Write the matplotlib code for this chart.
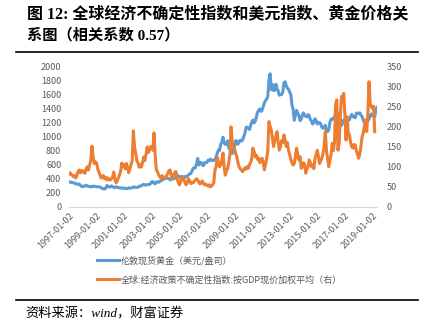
import matplotlib
matplotlib.use('Agg')
import matplotlib.pyplot as plt
import pandas as pd
from matplotlib.lines import Line2D

plt.rcParams['font.family'] = ['Noto Sans CJK SC', 'DejaVu Sans']

# London spot gold (USD/oz), monthly readings from the chart
gold = [
    360, 350, 352, 344, 344, 341, 326, 324, 323, 325, 306, 290,   # 1997
    289, 297, 296, 308, 299, 292, 293, 284, 289, 296, 294, 291,   # 1998
    287, 288, 286, 282, 277, 262, 256, 257, 265, 305, 293, 283,   # 1999
    285, 300, 286, 280, 275, 286, 282, 275, 273, 270, 266, 272,   # 2000
    266, 262, 263, 261, 272, 270, 268, 273, 283, 283, 276, 276,   # 2001
    282, 295, 294, 302, 314, 321, 314, 310, 319, 317, 319, 333,   # 2002
    357, 359, 340, 328, 355, 356, 351, 360, 379, 379, 389, 407,   # 2003
    414, 405, 406, 404, 384, 392, 398, 400, 406, 420, 439, 442,   # 2004
    424, 423, 434, 429, 422, 431, 424, 438, 456, 470, 476, 510,   # 2005
    549, 555, 557, 610, 690, 596, 633, 632, 598, 586, 628, 629,   # 2006
    631, 665, 655, 679, 667, 655, 665, 665, 712, 754, 806, 803,   # 2007
    889, 922, 990, 909, 888, 890, 939, 839, 829, 806, 760, 816,   # 2008
    858, 943, 924, 890, 928, 946, 934, 949, 996, 1043, 1127, 1134,
    1118, 1100, 1149, 1205, 1233, 1193, 1215, 1271, 1343, 1370, 1391,
    1356, 1372, 1424, 1474, 1510, 1529, 1573, 1800, 1890, 1665, 1739, 1652,
    1656, 1742, 1674, 1650, 1585, 1596, 1594, 1630, 1760, 1777, 1721, 1684,
    1671, 1627, 1593, 1450, 1390, 1230, 1300, 1370, 1330, 1300, 1225,
    1244, 1300, 1336, 1299, 1287, 1279, 1311, 1296, 1239, 1222, 1176, 1200,
    1251, 1227, 1178, 1198, 1198, 1181, 1131, 1117, 1125, 1159, 1086, 1068,
    1097, 1200, 1246, 1242, 1260, 1276, 1337, 1341, 1326, 1266, 1238, 1157,
    1192, 1234, 1231, 1266, 1246, 1260, 1236, 1283, 1315, 1280, 1283, 1265,
    1331, 1331, 1325, 1335, 1303, 1282, 1238, 1201, 1198, 1215, 1221, 1250,
    1291, 1320, 1301, 1286, 1284, 1359, 1413,
]

# Global economic policy uncertainty index (GDP weighted, current prices), right axis
epu = [
    82, 85, 80, 79, 75, 78, 72, 80, 88, 92, 85, 90,
    90, 85, 84, 95, 100, 92, 104, 115, 151, 125, 108, 112,
    109, 95, 87, 80, 72, 75, 78, 70, 74, 67, 72, 68,
    67, 70, 75, 87, 70, 60, 65, 72, 80, 90, 109, 100,
    105, 95, 108, 98, 85, 95, 105, 115, 189, 150, 134, 115,
    110, 99, 105, 99, 110, 124, 115, 130, 149, 135, 141, 150,
    150, 141, 184, 130, 92, 88, 80, 75, 72, 78, 74, 70,
    74, 78, 84, 90, 92, 78, 70, 80, 85, 88, 72, 62,
    55, 62, 70, 74, 68, 60, 55, 62, 70, 65, 58, 60,
    60, 64, 67, 70, 67, 62, 57, 60, 65, 58, 55, 57,
    54, 52, 55, 50, 52, 55, 60, 92, 100, 124, 109, 100,
    105, 117, 134, 100, 79, 90, 95, 110, 129, 199, 160, 150,
    145, 133, 125, 110, 100, 95, 92, 88, 92, 97, 94, 100,
    96, 105, 110, 120, 146, 138, 125, 129, 118, 121, 110, 115,
    121, 110, 92, 105, 120, 140, 212, 200, 191, 170, 150, 165,
    175, 187, 160, 141, 150, 165, 160, 179, 165, 150, 160, 140,
    130, 117, 110, 104, 108, 125, 146, 130, 117, 125, 96, 100,
    110, 105, 84, 95, 100, 117, 110, 100, 105, 95, 120, 130,
    141, 125, 108, 115, 120, 133, 150, 187, 140, 120, 100, 115,
    130, 158, 140, 160, 255, 266, 141, 158, 220, 274, 274, 282,
    230, 166, 224, 183, 179, 160, 150, 146, 155, 154, 140, 130,
    121, 133, 150, 174, 183, 200, 216, 187, 230, 311, 257, 249,
    245, 250, 187,
]

tick_labels = ['1997-01-02', '1999-01-02', '2001-01-02', '2003-01-02',
               '2005-01-02', '2007-01-02', '2009-01-02', '2011-01-02',
               '2013-01-02', '2015-01-02', '2017-01-02', '2019-01-02']
left_ticks = list(range(0, 2001, 200))
right_ticks = list(range(0, 351, 50))

label_gold = '伦敦现货黄金（美元/盎司）'
label_epu = '全球:经济政策不确定性指数:按GDP现价加权平均（右）'
title1 = '图 12: 全球经济不确定性指数和美元指数、黄金价格关'
title2 = '系图（相关系数 0.57）'
source = '资料来源：wind，财富证券'

gold_dates = pd.date_range('1997-01-01', periods=len(gold), freq='MS') + pd.Timedelta(days=1)
epu_dates = pd.date_range('1997-01-01', periods=len(epu), freq='MS') + pd.Timedelta(days=1)

W, H = 427, 330
fig = plt.figure(figsize=(W / 100, H / 100), dpi=100)
fig.patch.set_facecolor('white')

ax = fig.add_axes([69 / W, 1 - 207 / H, (377 - 69) / W, 141 / H])
ax2 = ax.twinx()

tick_col = '#595959'
l1, = ax.plot(gold_dates, gold, color='#5B9BD5', lw=2.2, solid_joinstyle='round')
l2, = ax2.plot(epu_dates, epu, color='#ED7D31', lw=2.2, solid_joinstyle='round')

ax.set_ylim(0, 2000)
ax2.set_ylim(0, 350)
ax.set_yticks(left_ticks)
ax2.set_yticks(right_ticks)
ax.set_xlim(pd.Timestamp('1997-01-02'), gold_dates[-1])

xt = [pd.Timestamp(t) for t in tick_labels]
ax.set_xticks(xt)
ax.set_xticklabels(tick_labels, rotation=45, ha='right', va='top',
                   rotation_mode='anchor')

for a in (ax, ax2):
    for s in a.spines.values():
        s.set_visible(False)
    a.tick_params(length=0, labelsize=6.5, colors=tick_col)
ax.spines['bottom'].set_visible(True)
ax.spines['bottom'].set_color('#D9D9D9')
ax.spines['bottom'].set_linewidth(0.9)
ax.tick_params(axis='y', pad=5.5)
ax2.tick_params(axis='y', pad=7)
ax.tick_params(axis='x', pad=3)

fig.legend([l1, l2], [label_gold, label_epu], loc='upper left',
           bbox_to_anchor=(97 / W, 1 - 256 / H), frameon=False,
           fontsize=6.5, handlelength=2.4, handletextpad=0.25,
           labelspacing=1.05, borderpad=0, borderaxespad=0,
           labelcolor=tick_col)

title_fam = ['Liberation Serif', 'Noto Sans CJK SC']
fig.text(27 / W, 1 - 14 / H, title1, fontsize=11.5, fontweight='bold',
         family=title_fam, va='center', ha='left')
fig.text(27 / W, 1 - 35 / H, title2, fontsize=11, fontweight='bold',
         family=title_fam, va='center', ha='left')

fig.add_artist(Line2D([16 / W, 418 / W], [1 - 52 / H, 1 - 52 / H],
                      color='black', lw=1.2, transform=fig.transFigure))
fig.add_artist(Line2D([16 / W, 418 / W], [1 - 300 / H, 1 - 300 / H],
                      color='black', lw=1.2, transform=fig.transFigure))

fig.text(25 / W, 1 - 314 / H, source, fontsize=9.5, style='italic',
         family=['Liberation Serif', 'Noto Sans CJK SC'], va='center', ha='left')

fig.savefig('out.png', dpi=100, facecolor='white')
